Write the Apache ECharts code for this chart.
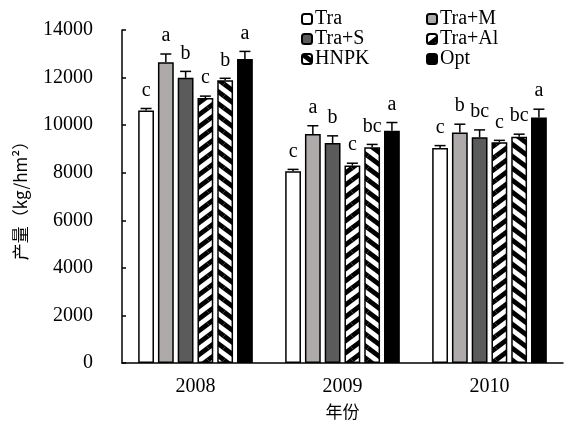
<!DOCTYPE html>
<html><head><meta charset="utf-8">
<script src="https://cdn.jsdelivr.net/npm/echarts@6/dist/echarts.min.js"></script>
<style>html,body{margin:0;padding:0;background:#fff}#c{width:566px;height:425px}</style>
</head><body><div id="c"></div>
<script>
const categories = ['2008', '2009', '2010'];
const seriesNames = ['Tra', 'Tra+M', 'Tra+S', 'Tra+Al', 'HNPK', 'Opt'];
const tra   = [10620, 8060, 9040];
const traM  = [12640, 9625, 9690];
const traS  = [11990, 9250, 9490];
const traAl = [11140, 8300, 9280];
const hnpk  = [11890, 9070, 9510];
const opt   = [12780, 9760, 10320];
const traErr   = [80, 80, 100];
const traMErr  = [350, 350, 350];
const traSErr  = [270, 300, 310];
const traAlErr = [80, 100, 80];
const hnpkErr  = [80, 120, 110];
const optErr   = [320, 350, 350];
const traSig   = ['c', 'c', 'c'];
const traMSig  = ['a', 'a', 'b'];
const traSSig  = ['b', 'b', 'bc'];
const traAlSig = ['c', 'c', 'c'];
const hnpkSig  = ['b', 'bc', 'bc'];
const optSig   = ['a', 'a', 'a'];
const yTicks = [0, 2000, 4000, 6000, 8000, 10000, 12000, 14000];

const values = [tra, traM, traS, traAl, hnpk, opt];
const errs = [traErr, traMErr, traSErr, traAlErr, hnpkErr, optErr];
const sigs = [traSig, traMSig, traSSig, traAlSig, hnpkSig, optSig];

function stripe(mirror) {
  const W = 16, H = 12;
  const cv = document.createElement('canvas');
  cv.width = W; cv.height = H;
  const g = cv.getContext('2d');
  g.fillStyle = '#fff'; g.fillRect(0, 0, W, H);
  g.strokeStyle = '#000'; g.lineWidth = 4.8;
  for (let dx = -1; dx <= 1; dx++) for (let dy = -1; dy <= 1; dy++) {
    g.beginPath();
    if (!mirror) { g.moveTo(dx * W, H + dy * H); g.lineTo(W + dx * W, dy * H); }
    else { g.moveTo(dx * W, dy * H); g.lineTo(W + dx * W, H + dy * H); }
    g.stroke();
  }
  return { image: cv, repeat: 'repeat' };
}
const fills = ['#ffffff', '#aeaaa9', '#5b5b5b', stripe(false), stripe(true), '#000000'];

const SERIF = '"Liberation Serif", "DejaVu Serif", serif';
const CJK = '"Noto Sans CJK SC", sans-serif';
const CAT_GAP = 0.22, BAR_GAP = 0.25;

const chart = echarts.init(document.getElementById('c'));
const series = seriesNames.map((n, i) => ({
  name: n, type: 'bar', data: values[i],
  barCategoryGap: (CAT_GAP * 100) + '%', barGap: (BAR_GAP * 100) + '%',
  itemStyle: { color: fills[i], borderColor: '#000', borderWidth: 1.5 },
  emphasis: { disabled: true }
}));
const errData = [];
for (let i = 0; i < 6; i++) for (let c = 0; c < 3; c++) errData.push([c, values[i][c], errs[i][c], i, sigs[i][c]]);
series.push({
  type: 'custom', z: 5, silent: true, data: errData,
  renderItem: function (params, api) {
    const c = api.value(0), v = api.value(1), e = api.value(2), i = api.value(3);
    const letter = errData[params.dataIndex][4];
    const band = api.size([1, 0])[0];
    const avail = band * (1 - CAT_GAP);
    const w = avail / (6 + 5 * BAR_GAP);
    const base = api.coord([c, v]);
    const top = api.coord([c, v + e]);
    const x = base[0] - avail / 2 + i * w * (1 + BAR_GAP) + w / 2;
    const cap = 5.5;
    return { type: 'group', children: [
      { type: 'line', shape: { x1: x, y1: base[1], x2: x, y2: top[1] }, style: { stroke: '#000', lineWidth: 1.5 } },
      { type: 'line', shape: { x1: x - cap, y1: top[1], x2: x + cap, y2: top[1] }, style: { stroke: '#000', lineWidth: 1.5 } },
      { type: 'text', x: x, y: top[1] - 8, style: { text: letter, fill: '#000', font: '20px ' + SERIF, textAlign: 'center', textVerticalAlign: 'bottom' } }
    ] };
  }
});

const legendCommon = { orient: 'vertical', itemWidth: 10, itemHeight: 10, itemGap: 0, selectedMode: false,
  textStyle: { fontFamily: SERIF, fontSize: 20, color: '#000', padding: [0, 0, 0, -2] } };

chart.setOption({
  animation: false,
  grid: { left: 122, right: 3, top: 30, bottom: 59 },
  legend: [
    Object.assign({ data: ['Tra', 'Tra+S', 'HNPK'], left: 296, top: 4 }, legendCommon),
    Object.assign({ data: ['Tra+M', 'Tra+Al', 'Opt'], left: 421, top: 4 }, legendCommon)
  ],
  xAxis: {
    type: 'category', data: categories, name: '年份', nameLocation: 'middle', nameGap: 40,
    nameTextStyle: { fontFamily: CJK, fontSize: 17, color: '#000' },
    axisLine: { lineStyle: { color: '#000', width: 1.5 } },
    axisTick: { inside: true, length: 7, lineStyle: { color: '#000', width: 1.5 } },
    axisLabel: { fontFamily: SERIF, fontSize: 20, color: '#000', margin: 14 }
  },
  yAxis: {
    type: 'value', min: yTicks[0], max: yTicks[yTicks.length - 1], interval: 2000,
    name: '产量（kg/hm²）', nameLocation: 'middle', nameGap: 93, nameRotate: 90,
    nameTextStyle: { fontFamily: CJK, fontSize: 17, color: '#000' },
    axisLine: { show: true, lineStyle: { color: '#000', width: 1.5 } },
    axisTick: { show: true, inside: true, length: 4, lineStyle: { color: '#000', width: 1.5 } },
    splitLine: { show: false },
    axisLabel: { fontFamily: SERIF, fontSize: 20, color: '#000', margin: 29, formatter: v => String(v) }
  },
  series: series
});
</script></body></html>
